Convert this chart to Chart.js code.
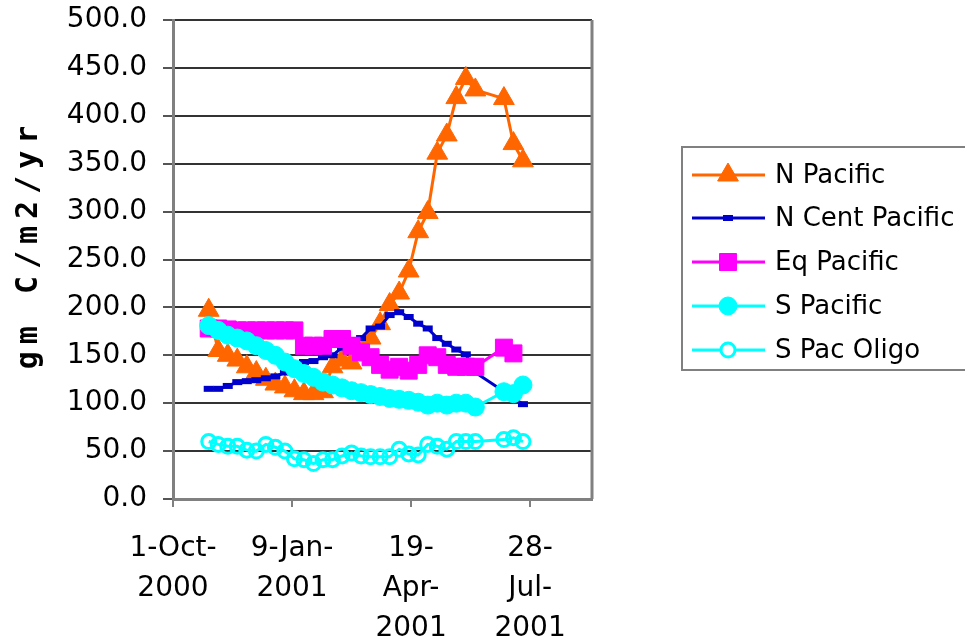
<!DOCTYPE html>
<html>
<head>
<meta charset="utf-8">
<script src="https://cdn.jsdelivr.net/npm/chart.js@4/dist/chart.umd.min.js"></script>
<style>
html, body { margin: 0; padding: 0; background: #fff; }
</style>
</head>
<body>
<canvas id="canvas" width="965" height="641"></canvas>
<script>
// days after 1-Oct-2000 (8 day composites)
const days = [30, 38, 46, 54, 62, 70, 78, 86, 94, 102, 110, 118, 126, 134, 142, 150, 158,
  166, 174, 182, 190, 198, 206, 214, 222, 230, 238, 246, 254, 262, 270, 278, 286, 294];

const nPacific = [197, 155, 150, 145, 138, 132, 125, 120, 117, 113, 110, 110, 112, 138, 145, 142, 152,
  168, 183, 203, 215, 238, 279, 299, 361, 380, 419, 439, 427, null, null, 418, 371, 353];
const nCentPacific = [115, 115, 118, 122, 123, 124, 126, 128, 132, 137, 143, 144, 148, 150, 158, 166, 168,
  178, 180, 192, 195, 190, 183, 178, 168, 162, 156, 151, 132, null, null, null, null, 99];
const eqPacific = [178, 178, 177, 176, 176, 176, 176, 176, 176, 176, 160, 160, 160, 167, 167, 160, 153,
  148, 140, 135, 138, 134, 140, 150, 148, 140, 138, 138, 138, null, null, 158, 152, null];
const sPacific = [181, 176, 171, 168, 165, 160, 155, 150, 143, 136, 131, 127, 122, 119, 116, 113, 111,
  109, 107, 105, 104, 103, 101, 98, 100, 98, 100, 100, 96, null, null, 112, 110, 119];
const sPacOligo = [60, 57, 55, 55, 51, 50, 57, 54, 50, 42, 41, 37, 41, 41, 45, 48, 45,
  44, 44, 44, 52, 47, 46, 57, 55, 52, 60, 60, 60, null, null, 62, 64, 60];

const xTicks = [0, 100, 200, 300];
const xTickLabels = [['1-Oct-', '2000'], ['9-Jan-', '2001'], ['19-', 'Apr-', '2001'], ['28-', 'Jul-', '2001']];
const yTitle = 'gm C/m2/yr';

const FONT = '"DejaVu Sans", Verdana, sans-serif';

const pts = arr => days.map((d, i) => ({ x: d, y: arr[i] }));

const series = [
  { label: 'N Pacific', data: nPacific, color: '#FF6600', style: 'triangle', r: 12, bw: 1, fill: '#FF6600' },
  { label: 'N Cent Pacific', data: nCentPacific, color: '#0000CC', style: 'line', r: 5, bw: 6, fill: '#0000CC' },
  { label: 'Eq Pacific', data: eqPacific, color: '#FF00FF', style: 'rect', r: 12, bw: 1, fill: '#FF00FF' },
  { label: 'S Pacific', data: sPacific, color: '#00FFFF', style: 'circle', r: 9, bw: 1, fill: '#00FFFF' },
  { label: 'S Pac Oligo', data: sPacOligo, color: '#00FFFF', style: 'circle', r: 7, bw: 3, fill: 'rgba(0,0,0,0)' }
];

const datasets = series.map((s, i) => ({
  label: s.label,
  data: pts(s.data),
  borderColor: s.color,
  backgroundColor: s.fill,
  borderWidth: 3,
  pointStyle: s.style,
  pointRadius: s.r,
  pointBorderWidth: s.bw,
  pointBorderColor: s.color,
  pointBackgroundColor: s.fill,
  spanGaps: true,
  tension: 0,
  order: series.length - i
}));

// plot frame + y title
const framePlugin = {
  id: 'frame',
  beforeDatasetsDraw(chart) {
    const { ctx, chartArea: a } = chart;
    ctx.save();
    ctx.strokeStyle = '#808080';
    ctx.lineWidth = 3;
    ctx.beginPath();
    ctx.moveTo(a.right, a.bottom);
    ctx.lineTo(a.right, a.top);
    ctx.stroke();
    ctx.restore();
  },
  afterDraw(chart) {
    const ctx = chart.ctx;
    ctx.save();
    ctx.translate(29, 247);
    ctx.rotate(-Math.PI / 2);
    ctx.font = 'bold 30px "DejaVu Sans Mono", monospace';
    ctx.letterSpacing = '7px';
    ctx.fillStyle = '#000';
    ctx.textAlign = 'center';
    ctx.textBaseline = 'middle';
    ctx.fillText(yTitle, 3, 0);
    ctx.restore();
  }
};

// legend box at the right
const legendPlugin = {
  id: 'boxLegend',
  afterDraw(chart) {
    const ctx = chart.ctx;
    ctx.save();
    ctx.strokeStyle = '#808080';
    ctx.lineWidth = 2;
    ctx.strokeRect(682, 147, 300, 223);
    const rows = [175, 218, 262, 306, 350];
    series.forEach((s, i) => {
      const y = rows[i];
      ctx.strokeStyle = s.color;
      ctx.lineWidth = 3;
      ctx.beginPath();
      ctx.moveTo(692, y);
      ctx.lineTo(765, y);
      ctx.stroke();
      ctx.fillStyle = i === 4 ? '#fff' : s.fill;
      ctx.strokeStyle = s.color;
      ctx.lineWidth = s.bw;
      Chart.helpers.drawPoint(ctx, { pointStyle: s.style, radius: s.r, rotation: 0, borderWidth: s.bw }, 728, y);
      ctx.fillStyle = '#000';
      ctx.font = '26px ' + FONT;
      ctx.textAlign = 'left';
      ctx.textBaseline = 'middle';
      ctx.fillText(s.label, 775, y + 1);
    });
    ctx.restore();
  }
};

new Chart(document.getElementById('canvas'), {
  type: 'line',
  data: { datasets: datasets },
  plugins: [framePlugin, legendPlugin],
  options: {
    responsive: false,
    animation: false,
    layout: { padding: { top: 20, right: 373, left: 0, bottom: 0 } },
    plugins: { legend: { display: false }, tooltip: { enabled: false } },
    scales: {
      x: {
        type: 'linear',
        min: 0,
        max: 352,
        afterBuildTicks: s => { s.ticks = xTicks.map(v => ({ value: v })); },
        afterFit: s => { s.height = 142; },
        ticks: {
          callback: v => xTickLabels[xTicks.indexOf(v)],
          color: '#000',
          font: { family: FONT, size: 28, lineHeight: 1.43 },
          padding: 22,
          maxRotation: 0,
          autoSkip: false
        },
        grid: { drawOnChartArea: false, tickLength: 8, color: '#808080', lineWidth: 2 },
        border: { color: '#808080', width: 3 }
      },
      y: {
        min: 0,
        max: 500,
        afterFit: s => { s.width = 173; s.paddingTop = 0; s.paddingBottom = 0; },
        ticks: {
          stepSize: 50,
          callback: v => v.toFixed(1),
          color: '#000',
          font: { family: FONT, size: 28, lineHeight: 0.5 },
          padding: 16
        },
        grid: { color: '#333', lineWidth: 2, tickLength: 10, tickColor: '#555' },
        border: { color: '#808080', width: 3 }
      }
    }
  }
});
</script>
</body>
</html>
